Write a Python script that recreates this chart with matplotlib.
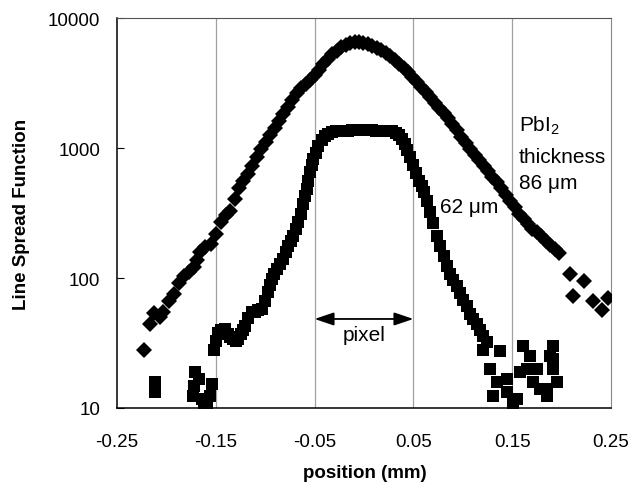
import matplotlib
matplotlib.use("Agg")
import matplotlib.pyplot as plt

plt.rcParams['font.family'] = ['Liberation Sans', 'DejaVu Sans']
plt.rcParams['mathtext.fontset'] = 'custom'
plt.rcParams['mathtext.rm'] = 'Liberation Sans'
plt.rcParams['mathtext.it'] = 'Liberation Sans:italic'
plt.rcParams['mathtext.bf'] = 'Liberation Sans:bold'

# ---- data: 86 um thick PbI2 (diamonds) ----
x86 = [-0.2227, -0.2170, -0.2122, -0.2062, -0.2038, -0.1977, -0.1926, -0.1876,
       -0.1825, -0.1774, -0.1724, -0.1690, -0.1657, -0.1606, -0.1545, -0.1500,
       -0.1444, -0.1395, -0.1356, -0.1310, -0.1265, -0.1220, -0.1175, -0.1130,
       -0.1085, -0.1040, -0.0995, -0.0950, -0.0905, -0.0860, -0.0815, -0.0770,
       -0.0725, -0.0680, -0.0635, -0.0590, -0.0545, -0.0500, -0.0455, -0.0410,
       -0.0365, -0.0320, -0.0275, -0.0230, -0.0185, -0.0140, -0.0095, -0.0050,
       -0.0005, 0.0040, 0.0085, 0.0130, 0.0175, 0.0220, 0.0265, 0.0310,
       0.0355, 0.0400, 0.0445, 0.0490, 0.0535, 0.0580, 0.0625, 0.0670,
       0.0715, 0.0760, 0.0805, 0.0850, 0.0895, 0.0940, 0.0985, 0.1030,
       0.1075, 0.1120, 0.1165, 0.1210, 0.1255, 0.1300, 0.1345, 0.1390,
       0.1435, 0.1480, 0.1525, 0.1570, 0.1615, 0.1660, 0.1705, 0.1750,
       0.1795, 0.1840, 0.1885, 0.1930, 0.1975, 0.2085, 0.2119, 0.2225,
       0.2320, 0.2406, 0.2473]
y86 = [28, 44, 54, 50, 55, 66, 75, 91,
       104, 111, 121, 137, 158, 172, 184, 218,
       268, 305, 330, 407, 490, 556, 631, 733,
       851, 977, 1122, 1259, 1413, 1603, 1820, 2065,
       2344, 2630, 2884, 3126, 3350, 3631, 3981, 4416,
       4842, 5248, 5623, 5957, 6237, 6412, 6501, 6531,
       6457, 6310, 6124, 5916, 5689, 5408, 5070, 4732,
       4416, 4121, 3846, 3548, 3236, 2951, 2692, 2455,
       2239, 2042, 1862, 1698, 1531, 1365, 1216, 1084,
       977, 881, 804, 733, 668, 603, 550, 495,
       437, 394, 351, 309, 282, 260, 240, 224,
       209, 193, 178, 166, 155, 108, 73, 95,
       67, 57, 70]

# ---- data: 62 um thick PbI2 (squares) ----
x62 = [-0.2112, -0.2112, -0.1707, -0.1724, -0.1730, -0.1673, -0.1640, -0.1622,
       -0.1589, -0.1555, -0.1538,
       -0.1514, -0.1500, -0.1475, -0.1450, -0.1425, -0.1407, -0.1380, -0.1355,
       -0.1330, -0.1300, -0.1272, -0.1245, -0.1220, -0.1204, -0.1170, -0.1137,
       -0.1105, -0.1070, -0.1035, -0.1000, -0.0968, -0.0950, -0.0934, -0.0910,
       -0.0884, -0.0850, -0.0817, -0.0790, -0.0766, -0.0740, -0.0716, -0.0690,
       -0.0665, -0.0640, -0.0614, -0.0595, -0.0581, -0.0565, -0.0547, -0.0530,
       -0.0513, -0.0490, -0.0462, -0.0430, -0.0395, -0.0360, -0.0320, -0.0280,
       -0.0240, -0.0200, -0.0160, -0.0120, -0.0080, -0.0040, 0.0000, 0.0040,
       0.0080, 0.0120, 0.0160, 0.0200, 0.0240, 0.0280, 0.0320, 0.0350,
       0.0380, 0.0410, 0.0440, 0.0470, 0.0500, 0.0530, 0.0560, 0.0585,
       0.0607, 0.0635, 0.0668, 0.0700, 0.0736, 0.0770, 0.0805, 0.0837,
       0.0870, 0.0905, 0.0938, 0.0970, 0.1005, 0.1040, 0.1075, 0.1107,
       0.1140, 0.1175, 0.1208,
       0.1208, 0.1242, 0.1275, 0.1309, 0.1343, 0.1377, 0.1444, 0.1444,
       0.1510, 0.1545, 0.1580, 0.1612, 0.1646, 0.1680, 0.1714, 0.1747,
       0.1780, 0.1850, 0.1882, 0.1916, 0.1916, 0.1950, 0.1849, 0.1916]
y62 = [15.8, 13.2, 18.8, 14.8, 12.4, 16.7, 11.7, 10.4,
       10.7, 12.4, 15.3,
       28, 33, 38, 40, 39, 40.5, 37, 35,
       34, 33, 34, 37, 40, 43, 49, 54.5,
       55, 57, 58, 66, 78, 88, 98, 107,
       117, 128, 140, 158, 177, 193, 211, 238,
       268, 310, 370, 425, 484, 560, 650, 735,
       822, 920, 1042, 1150, 1245, 1290, 1320, 1340,
       1350, 1360, 1360, 1370, 1370, 1370, 1370, 1370,
       1365, 1360, 1360, 1355, 1350, 1340, 1310, 1270,
       1180, 1080, 970, 860, 740, 640, 560, 510,
       460, 390, 320, 265, 211, 175, 148, 124,
       108, 96, 87, 77, 68, 61, 53, 48,
       44, 40, 36,
       28, 32, 20, 12.4, 15.8, 27.6, 16.7, 13.2,
       11.0, 11.7, 18.8, 30, 20, 25.2, 15.8, 20,
       14, 12.4, 25.2, 30, 20, 15.8, 14, 23.8]

xticks = [-0.25, -0.15, -0.05, 0.05, 0.15, 0.25]
xticklabels = ['-0.25', '-0.15', '-0.05', '0.05', '0.15', '0.25']
yticks = [10, 100, 1000, 10000]
yticklabels = ['10', '100', '1000', '10000']
grid_x = [-0.15, -0.05, 0.05, 0.15]

fig = plt.figure(figsize=(6.41, 4.89), dpi=100)
ax = fig.add_axes([0.1825, 0.1636, 0.7707, 0.7975])

for gx in grid_x:
    ax.axvline(gx, color='#a0a0a0', lw=0.9, zorder=0)

ax.plot(x86, y86, linestyle='none', marker='D', ms=8.2, mew=0,
        color='black', zorder=3)
ax.plot(x62, y62, linestyle='none', marker='s', ms=9.2, mew=0,
        color='black', zorder=3)

ax.set_yscale('log')
ax.set_xlim(-0.25, 0.25)
ax.set_ylim(10, 10000)
ax.set_xticks(xticks)
ax.set_xticklabels(xticklabels)
ax.set_yticks(yticks)
ax.set_yticklabels(yticklabels)
ax.minorticks_off()
ax.tick_params(axis='y', direction='in', length=5, width=0.8, pad=12,
               labelsize=13.5)
ax.tick_params(axis='x', length=0, pad=18, labelsize=13.5)

for s in ['left', 'bottom']:
    ax.spines[s].set_color('black')
    ax.spines[s].set_linewidth(1.1)
ax.spines['top'].set_color('#555555')
ax.spines['top'].set_linewidth(0.8)
ax.spines['right'].set_color('#888888')
ax.spines['right'].set_linewidth(0.8)
ax.spines['right'].set_linestyle((0, (1.5, 1)))

fig.text(0.033, 0.561, 'Line Spread Function', rotation=90, ha='center',
         va='center', fontsize=13.5, fontweight='bold')
fig.text(0.569, 0.031, 'position (mm)', ha='center', va='center',
         fontsize=13.5, fontweight='bold')

ax.annotate('', xy=(-0.05, 48.4), xytext=(0.05, 48.4),
            arrowprops=dict(arrowstyle='<|-|>,head_length=0.65,head_width=0.22',
                            color='black', lw=1.3, mutation_scale=18,
                            shrinkA=0, shrinkB=0))
ax.text(0.0, 37, 'pixel', ha='center', va='center', fontsize=15)

ax.text(0.1569, 1503, 'PbI$_2$', ha='left', va='center', fontsize=15)
ax.text(0.1569, 867, 'thickness', ha='left', va='center', fontsize=15)
ax.text(0.1569, 547, '86 μm', ha='left', va='center', fontsize=15)
ax.text(0.0769, 358, '62 μm', ha='left', va='center', fontsize=15)

fig.savefig('out.png', dpi=100)
